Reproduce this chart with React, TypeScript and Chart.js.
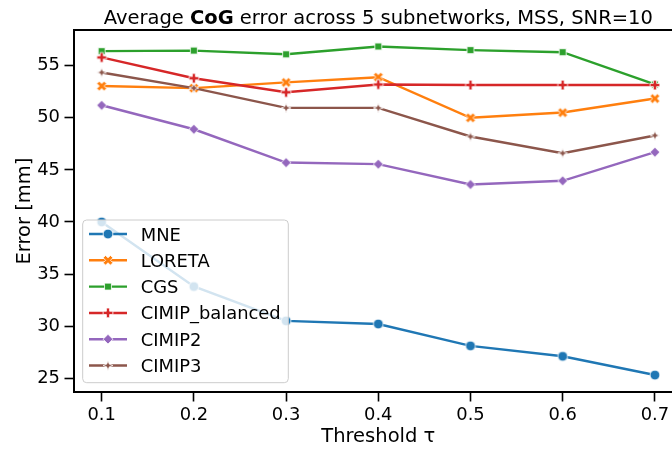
import React, { useEffect, useRef } from "react";
import { Chart, registerables } from "chart.js";

Chart.register(...registerables);

// ---------- data ----------
const thresholds = [0.1, 0.2, 0.3, 0.4, 0.5, 0.6, 0.7];
const seriesNames = ["MNE", "LORETA", "CGS", "CIMIP_balanced", "CIMIP2", "CIMIP3"];
const mneValues = [40.0, 33.8, 30.5, 30.2, 28.1, 27.1, 25.3];
const loretaValues = [53.05, 52.85, 53.4, 53.9, 50.0, 50.5, 51.85];
const cgsValues = [56.4, 56.45, 56.1, 56.85, 56.5, 56.3, 53.2];
const cimipBalancedValues = [55.8, 53.8, 52.45, 53.2, 53.15, 53.15, 53.15];
const cimip2Values = [51.2, 48.9, 45.7, 45.55, 43.6, 43.95, 46.7];
const cimip3Values = [54.35, 52.85, 50.95, 50.95, 48.2, 46.6, 48.3];
const xTickValues = [0.1, 0.2, 0.3, 0.4, 0.5, 0.6, 0.7];
const yTickValues = [25, 30, 35, 40, 45, 50, 55];

const titleParts = ["Average ", "CoG", " error across 5 subnetworks, MSS, SNR=10"];
const xLabel = "Threshold τ";
const yLabel = "Error [mm]";

const seriesColors = ["#1f77b4", "#ff7f0e", "#2ca02c", "#d62728", "#9467bd", "#8c564b"];
const seriesMarkers = ["o", "X", "s", "P", "D", "star"];

const FONT = '"DejaVu Sans", sans-serif';
const MS = 9.75; // marker size in px
const LW = 2.45;
const TITLE_SIZE = 19.5;
const LABEL_SIZE = 19.5;
const TICK_SIZE = 17.9;
const LEGEND_SIZE = 17.9;

function markerPath(ctx: CanvasRenderingContext2D, shape: string, cx: number, cy: number, ms: number) {
  ctx.beginPath();
  const poly = (pts: number[][], scale: number) => {
    pts.forEach((p, i) => {
      const x = cx + p[0] * scale * ms;
      const y = cy - p[1] * scale * ms;
      if (i === 0) ctx.moveTo(x, y);
      else ctx.lineTo(x, y);
    });
    ctx.closePath();
  };
  if (shape === "o") {
    ctx.arc(cx, cy, ms / 2, 0, Math.PI * 2);
  } else if (shape === "s") {
    const pts: number[][] = [];
    for (let k = 0; k < 4; k++) {
      const a = Math.PI / 4 + (k * Math.PI) / 2;
      pts.push([0.5 * Math.cos(a), 0.5 * Math.sin(a)]);
    }
    poly(pts, 1);
  } else if (shape === "D") {
    poly([[0, 0.5], [0.5, 0], [0, -0.5], [-0.5, 0]], 1);
  } else if (shape === "star") {
    const pts: number[][] = [];
    for (let k = 0; k < 8; k++) {
      const a = Math.PI / 2 + (k * Math.PI) / 4;
      const r = k % 2 === 0 ? 0.5 : 0.5 * 0.381966;
      pts.push([r * Math.cos(a), r * Math.sin(a)]);
    }
    poly(pts, 1);
  } else if (shape === "P") {
    poly(
      [[-1, -3], [1, -3], [1, -1], [3, -1], [3, 1], [1, 1], [1, 3], [-1, 3], [-1, 1], [-3, 1], [-3, -1], [-1, -1]],
      1 / 6
    );
  } else if (shape === "X") {
    poly(
      [[-1, -2], [0, -1], [1, -2], [2, -1], [1, 0], [2, 1], [1, 2], [0, 1], [-1, 2], [-2, 1], [-1, 0], [-2, -1]],
      1 / 4
    );
  }
}

function drawMarker(ctx: CanvasRenderingContext2D, shape: string, cx: number, cy: number, color: string, ms: number) {
  markerPath(ctx, shape, cx, cy, ms);
  ctx.fillStyle = color;
  ctx.fill();
  ctx.strokeStyle = "#ffffff";
  ctx.lineWidth = 0.8;
  ctx.lineJoin = "miter";
  ctx.stroke();
}

function makeMarkerCanvas(shape: string, color: string, ms: number) {
  const size = Math.ceil(ms + 4);
  const c = document.createElement("canvas");
  c.width = size;
  c.height = size;
  const ctx = c.getContext("2d")!;
  drawMarker(ctx, shape, size / 2, size / 2, color, ms);
  return c;
}

const decorPlugin = {
  id: "decor",
  afterDatasetsDraw(chart: any) {
    const ctx: CanvasRenderingContext2D = chart.ctx;
    // legend
    const bx = 82.7, by = 220, bw = 205.6, bh = 162.7, r = 4;
    ctx.save();
    ctx.beginPath();
    ctx.moveTo(bx + r, by);
    ctx.lineTo(bx + bw - r, by);
    ctx.arcTo(bx + bw, by, bx + bw, by + r, r);
    ctx.lineTo(bx + bw, by + bh - r);
    ctx.arcTo(bx + bw, by + bh, bx + bw - r, by + bh, r);
    ctx.lineTo(bx + r, by + bh);
    ctx.arcTo(bx, by + bh, bx, by + bh - r, r);
    ctx.lineTo(bx, by + r);
    ctx.arcTo(bx, by, bx + r, by, r);
    ctx.closePath();
    ctx.fillStyle = "rgba(255,255,255,0.8)";
    ctx.fill();
    ctx.strokeStyle = "#cccccc";
    ctx.lineWidth = 1;
    ctx.stroke();
    seriesNames.forEach((name, i) => {
      const cy = 234 + i * 26.3;
      ctx.beginPath();
      ctx.moveTo(89, cy);
      ctx.lineTo(127, cy);
      ctx.strokeStyle = seriesColors[i];
      ctx.lineWidth = LW;
      ctx.lineCap = "butt";
      ctx.stroke();
      drawMarker(ctx, seriesMarkers[i], 108, cy, seriesColors[i], MS);
      ctx.fillStyle = "#000";
      ctx.font = `${LEGEND_SIZE}px ${FONT}`;
      ctx.textAlign = "left";
      ctx.textBaseline = "alphabetic";
      ctx.fillText(name, 140.7, cy + 6.5);
    });
    ctx.restore();
  },
  afterDraw(chart: any) {
    const ctx: CanvasRenderingContext2D = chart.ctx;
    const area = chart.chartArea;
    ctx.save();
    // top spine
    ctx.beginPath();
    ctx.moveTo(area.left - 1, area.top);
    ctx.lineTo(area.right + 1, area.top);
    ctx.strokeStyle = "#000";
    ctx.lineWidth = 2;
    ctx.stroke();
    // title with bold part
    const cx = (area.left + area.right) / 2;
    const fonts = [
      `${TITLE_SIZE}px ${FONT}`,
      `bold ${TITLE_SIZE}px ${FONT}`,
      `${TITLE_SIZE}px ${FONT}`,
    ];
    let total = 0;
    const widths = titleParts.map((p, i) => {
      ctx.font = fonts[i];
      const w = ctx.measureText(p).width;
      total += w;
      return w;
    });
    let x = cx - total / 2;
    ctx.fillStyle = "#000";
    ctx.textBaseline = "alphabetic";
    ctx.textAlign = "left";
    titleParts.forEach((p, i) => {
      ctx.font = fonts[i];
      ctx.fillText(p, x, 24);
      x += widths[i];
    });
    // x label
    ctx.font = `${LABEL_SIZE}px ${FONT}`;
    ctx.textAlign = "center";
    ctx.fillText(xLabel, cx, 442);
    // y label
    ctx.translate(29.5, (area.top + area.bottom) / 2);
    ctx.rotate(-Math.PI / 2);
    ctx.fillText(yLabel, 0, 0);
    ctx.restore();
  },
};

export default function App() {
  const canvasRef = useRef<HTMLCanvasElement | null>(null);

  useEffect(() => {
    const canvas = canvasRef.current;
    if (!canvas) return;
    const allValues = [mneValues, loretaValues, cgsValues, cimipBalancedValues, cimip2Values, cimip3Values];
    const datasets = allValues.map((vals, i) => ({
      label: seriesNames[i],
      data: thresholds.map((t, j) => ({ x: t, y: vals[j] })),
      borderColor: seriesColors[i],
      backgroundColor: seriesColors[i],
      borderWidth: LW,
      pointStyle: makeMarkerCanvas(seriesMarkers[i], seriesColors[i], MS) as any,
      pointRadius: 5,
      pointHoverRadius: 5,
      tension: 0,
      order: -i,
      clip: false as any,
    }));

    const tickFont = { family: FONT, size: TICK_SIZE };
    const chart = new Chart(canvas, {
      type: "line",
      data: { datasets },
      plugins: [decorPlugin],
      options: {
        animation: false,
        responsive: false,
        devicePixelRatio: 1,
        layout: { padding: { top: 30, right: 7, left: 0, bottom: 0 } },
        plugins: {
          legend: { display: false },
          title: { display: false },
          tooltip: { enabled: false },
        },
        events: [],
        scales: {
          x: {
            type: "linear",
            min: 0.07,
            max: 0.73,
            afterBuildTicks: (s: any) => {
              s.ticks = xTickValues.map((v) => ({ value: v }));
            },
            afterFit: (s: any) => {
              s.height = 58;
            },
            ticks: {
              callback: (v: any) => Number(v).toFixed(1),
              font: tickFont,
              color: "#000",
              padding: 3,
              maxRotation: 0,
              autoSkip: false,
            },
            grid: {
              display: true,
              drawOnChartArea: false,
              drawTicks: true,
              tickLength: 9.5,
              tickWidth: 1.6,
              tickColor: "#000",
            },
            border: { display: true, color: "#000", width: 2 },
          },
          y: {
            type: "linear",
            min: 23.67,
            max: 58.43,
            afterBuildTicks: (s: any) => {
              s.ticks = yTickValues.map((v) => ({ value: v }));
            },
            afterFit: (s: any) => {
              s.width = 74;
            },
            ticks: {
              callback: (v: any) => String(v),
              font: tickFont,
              color: "#000",
              padding: 4.5,
              autoSkip: false,
            },
            grid: {
              display: true,
              drawOnChartArea: false,
              drawTicks: true,
              tickLength: 9.5,
              tickWidth: 1.6,
              tickColor: "#000",
            },
            border: { display: true, color: "#000", width: 2 },
          },
        },
      } as any,
    });
    return () => chart.destroy();
  }, []);

  return (
    <div
      style={{
        position: "fixed",
        left: 0,
        top: 0,
        width: 672,
        height: 450,
        overflow: "hidden",
        background: "#fff",
      }}
    >
      <canvas ref={canvasRef} width={690} height={450} style={{ display: "block" }} />
    </div>
  );
}
